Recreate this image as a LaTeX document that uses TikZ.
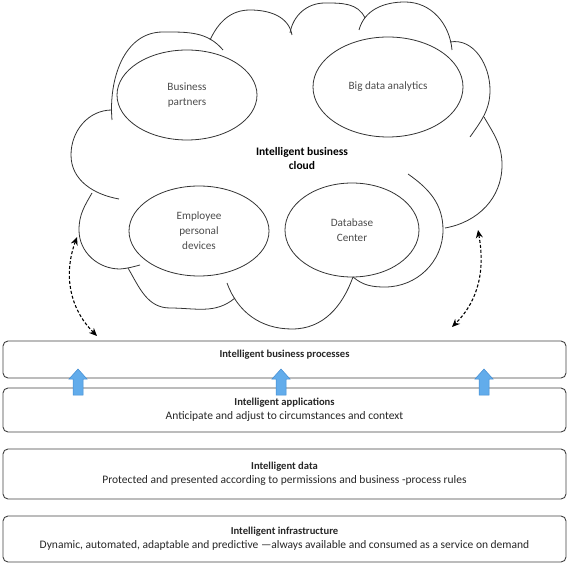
\documentclass[tikz,border=0pt]{standalone}
\usepackage{fontspec}
\setmainfont{Carlito}
\usetikzlibrary{shapes.geometric,arrows.meta}
\newcommand{\layerhead}{\fontsize{10.6}{14}\selectfont\bfseries}

\begin{document}
\begin{tikzpicture}[x=1pt,y=1pt,
  layer/.style={draw=black!75, line width=0.9pt, rounded corners=5pt, minimum width=563pt, inner sep=0pt, align=center, font=\fontsize{11.5}{14}\selectfont, text=black!85},
  bubble/.style={ellipse, draw=black!80, line width=0.8pt, inner sep=0pt, align=center, font=\fontsize{11.2}{15}\selectfont, text=black!70},
  puff/.style={draw=black!80, line width=0.8pt},
  blueup/.style={fill={rgb,255:red,98;green,172;blue,235}, draw={rgb,255:red,66;green,140;blue,210}, line width=0.5pt},
  linkarrow/.style={line width=1.1pt, dash pattern=on 3pt off 2pt, {Stealth[length=8pt,width=7pt]}-{Stealth[length=8pt,width=7pt]}}]
\useasboundingbox (0,0) rectangle (569,565);
\draw[puff] (112,445) to[out=95,in=180] (163,533) to[out=0,in=130] (223,515);
\draw[puff] (210,525) to[out=65,in=180] (250,555) to[out=0,in=100] (292,530);
\draw[puff] (290,532) to[out=80,in=180] (325,562) to[out=0,in=115] (365,547);
\draw[puff] (359,535) to[out=75,in=180] (405,563) to[out=0,in=95] (452,515);
\draw[puff] (450,523) to[out=10,in=90] (490,475) to[out=-90,in=55] (470,428);
\draw[puff] (484,448) to[out=-60,in=90] (502,400) to[out=-90,in=10] (445,337);
\draw[puff] (408,391) to[out=-35,in=90] (443,335) to[out=-90,in=0] (385,278) to[out=180,in=-40] (353,288);
\draw[puff] (353,288) to[out=-110,in=0] (292,236) to[out=180,in=-70] (227,282);
\draw[puff] (235,267) to[out=-140,in=0] (170,257) to[out=180,in=-60] (128,297);
\draw[puff] (92,372) to[out=-120,in=90] (79,335) to[out=-90,in=180] (120,296) to[out=5,in=-165] (140,300);
\draw[puff] (112,455) to[out=180,in=90] (71,410) to[out=-90,in=170] (119,366);
\node[bubble, minimum width=140pt, minimum height=90pt] (partners) at (187,470) {Business\\partners};
\node[bubble, minimum width=150pt, minimum height=100pt] (bigdata) at (388,478) {Big data analytics};
\node[bubble, minimum width=140pt, minimum height=90pt] (devices) at (199,334) {Employee\\personal\\devices};
\node[bubble, minimum width=134pt, minimum height=94pt] (dbcenter) at (352,335) {Database\\Center};
\node[align=center, font=\fontsize{11.5}{14}\selectfont\bfseries] (cloudname) at (302,406) {Intelligent business\\cloud};
\node[layer, minimum height=37pt, text depth=11pt] (procbox) at (284.5,205.5) {{\layerhead Intelligent business processes}};
\node[layer, minimum height=44pt] (appbox) at (284.5,155) {{\layerhead Intelligent applications}\\Anticipate and adjust to circumstances and context};
\node[layer, minimum height=50pt] (databox) at (284.5,91) {{\layerhead Intelligent data}\\Protected and presented according to permissions and business -process rules};
\node[layer, minimum height=46pt] (infrabox) at (284.5,26) {{\layerhead Intelligent infrastructure}\\Dynamic, automated, adaptable and predictive ---always available and consumed as a service on demand};
\draw[blueup] (73,170) -- ++(10,0) -- ++(0,16) -- ++(4,0) -- ++(-9,10) -- ++(-9,-10) -- ++(4,0) -- cycle;
\draw[blueup] (276,170) -- ++(10,0) -- ++(0,16) -- ++(4,0) -- ++(-9,10) -- ++(-9,-10) -- ++(4,0) -- cycle;
\draw[blueup] (479,170) -- ++(10,0) -- ++(0,16) -- ++(4,0) -- ++(-9,10) -- ++(-9,-10) -- ++(4,0) -- cycle;
\coordinate (cloudL) at (77,328);
\coordinate (procL) at (97,229);
\coordinate (cloudR) at (478,335);
\coordinate (procR) at (452,238);
\draw[linkarrow] (cloudL) to[out=-110,in=135] (procL);
\draw[linkarrow] (cloudR) to[out=-80,in=45] (procR);
\end{tikzpicture}
\end{document}
